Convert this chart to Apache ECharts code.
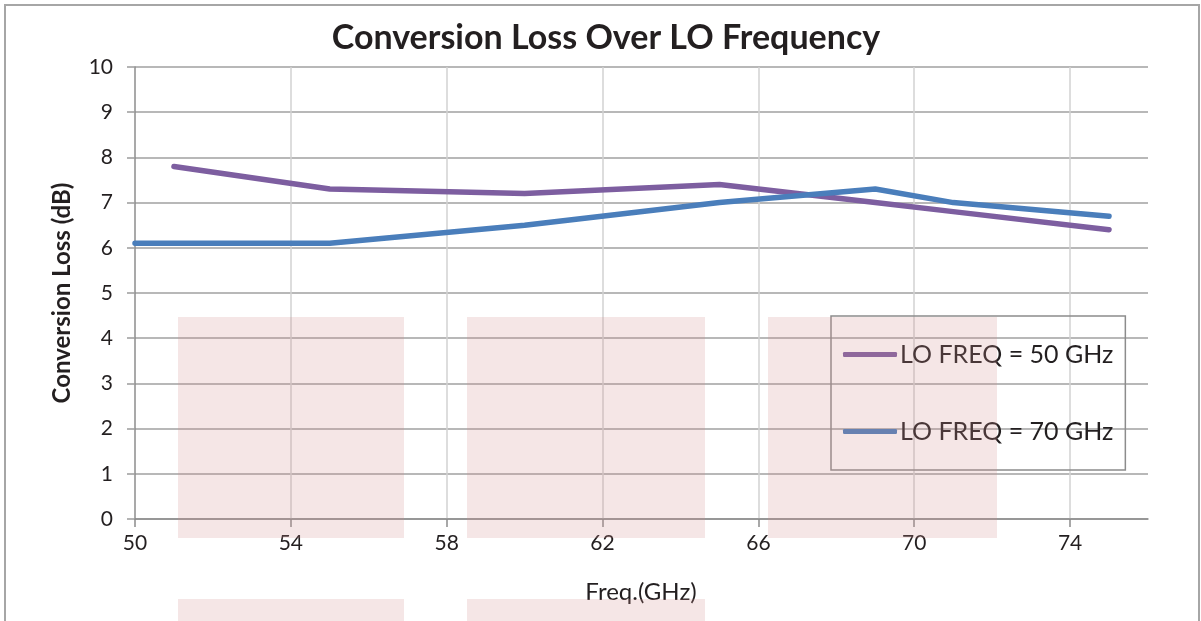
<!DOCTYPE html>
<html>
<head>
<meta charset="utf-8">
<script src="https://cdn.jsdelivr.net/npm/echarts@6/dist/echarts.min.js"></script>
<style>html,body{margin:0;padding:0;background:#fff}#c{width:1201px;height:621px}</style>
</head>
<body>
<div id="c"></div>
<script>
// Data
const freqs50 = [51, 55, 60, 65, 69, 71, 75];
const loss50  = [7.8, 7.3, 7.2, 7.4, 7.0, 6.8, 6.4];
const freqs70 = [50, 55, 60, 65, 69, 71, 75];
const loss70  = [6.1, 6.1, 6.5, 7.0, 7.3, 7.0, 6.7];
const seriesNames = ['LO FREQ = 50 GHz', 'LO FREQ = 70 GHz'];
const titleText = 'Conversion Loss Over LO Frequency';
const xName = 'Freq.(GHz)';
const yName = 'Conversion Loss (dB)';
const xMin = 50, xMax = 76, xStep = 4;
const yMin = 0, yMax = 10, yStep = 1;

const chart = echarts.init(document.getElementById('c'));
const font = 'Lato, "Open Sans", sans-serif';
const txt = '#231f20';
const toPts = (xs, ys) => xs.map((x, i) => [x - xMin, ys[i]]);
const pink = 'rgba(210,140,140,0.22)';
function pinkRect(x, y, w, h) {
  return { type: 'rect', shape: { x, y, width: w, height: h }, style: { fill: pink }, z: 100, silent: true };
}
chart.setOption({
  animation: false,
  backgroundColor: '#fff',
  title: {
    text: titleText,
    left: 601, top: 16, textAlign: 'center',
    textStyle: { fontFamily: font, fontWeight: 'bold', fontSize: 34, color: txt }
  },
  grid: { left: 135, right: 53, top: 67, bottom: 102, containLabel: false },
  xAxis: {
    type: 'value', min: 0, max: xMax - xMin, interval: xStep,
    axisLine: { show: true, lineStyle: { color: '#8c8c8c', width: 1.5 } },
    axisTick: { show: true, length: 8, lineStyle: { color: '#8c8c8c', width: 1.5 } },
    axisLabel: { fontFamily: font, fontSize: 21, color: txt, margin: 14, showMaxLabel: false,
      formatter: v => String(v + xMin) },
    splitLine: { show: true, showMinLine: false, showMaxLine: false, lineStyle: { color: '#d2d2d2', width: 1.5 } }
  },
  yAxis: {
    type: 'value', min: yMin, max: yMax, interval: yStep,
    axisLine: { show: true, lineStyle: { color: '#8c8c8c', width: 1.5 } },
    axisTick: { show: true, length: 8, lineStyle: { color: '#9c9c9c', width: 1.5 } },
    axisLabel: { fontFamily: font, fontSize: 21, color: txt, margin: 22 },
    splitLine: { show: true, lineStyle: { color: '#a0a0a0', width: 1.5 } }
  },
  legend: {
    orient: 'vertical', left: 831, top: 316,
    padding: [26, 12, 26, 12], itemGap: 52,
    itemWidth: 54, itemHeight: 5, icon: 'roundRect',
    borderColor: '#8c8c8c', borderWidth: 1.5, backgroundColor: 'transparent',
    textStyle: { fontFamily: font, fontSize: 25, lineHeight: 25, color: txt, padding: [0, 0, 0, -2] },
    data: seriesNames
  },
  series: [
    { name: seriesNames[0], type: 'line', data: toPts(freqs50, loss50), symbol: 'none',
      lineStyle: { color: '#7d5ea0', width: 5.5, cap: 'round', join: 'round' }, itemStyle: { color: '#7d5ea0' } },
    { name: seriesNames[1], type: 'line', data: toPts(freqs70, loss70), symbol: 'none',
      lineStyle: { color: '#4a7ebb', width: 5.5, cap: 'round', join: 'round' }, itemStyle: { color: '#4a7ebb' } }
  ],
  graphic: [
    { type: 'text', x: 62, y: 293, rotation: Math.PI / 2, silent: true,
      style: { text: yName, fontFamily: font, fontSize: 24, fontWeight: 'bold', fill: txt,
        align: 'center', verticalAlign: 'middle' } },
    { type: 'text', x: 641, y: 592, silent: true,
      style: { text: xName, fontFamily: font, fontSize: 24, fill: txt,
        align: 'center', verticalAlign: 'middle' } },
    { type: 'rect', shape: { x: 5, y: 5, width: 1194, height: 630 },
      style: { fill: 'none', stroke: '#a6a6a6', lineWidth: 2 }, z: 101, silent: true },
    pinkRect(178, 317, 226, 221),
    pinkRect(467, 317, 238, 221),
    pinkRect(768, 317, 229, 221),
    pinkRect(178, 599, 226, 30),
    pinkRect(467, 599, 238, 30)
  ]
});
</script>
</body>
</html>
